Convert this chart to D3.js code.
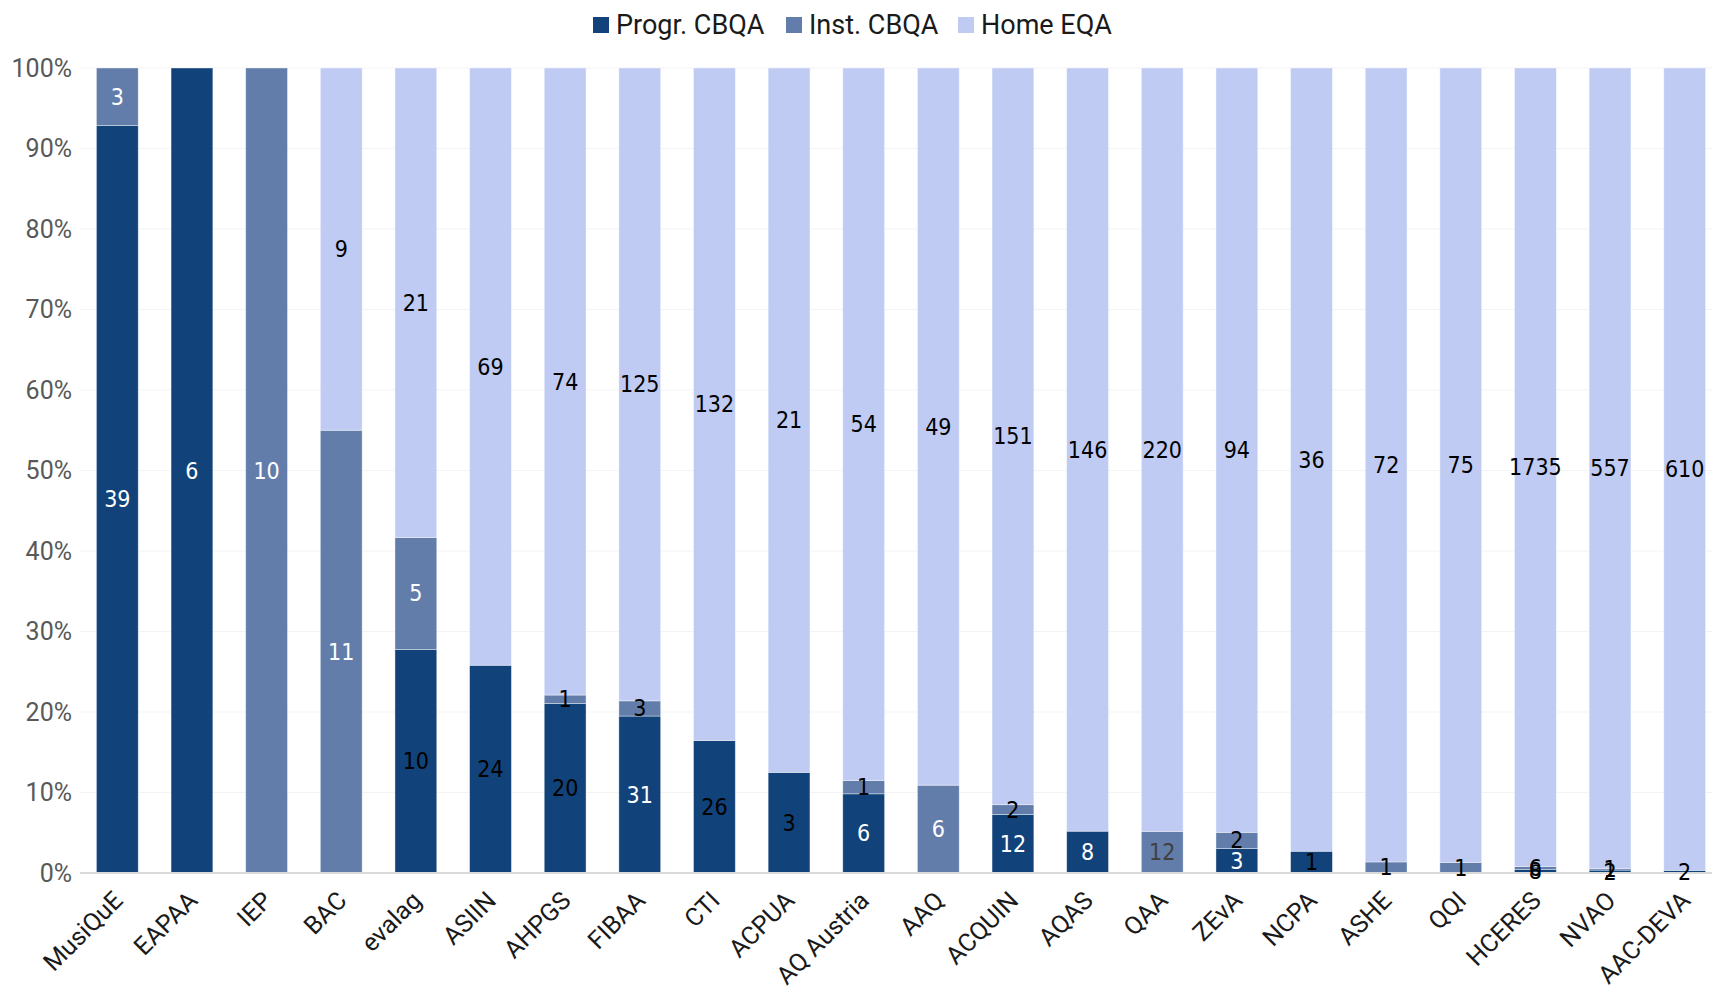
<!DOCTYPE html>
<html>
  <head>
    <meta charset="utf-8">
    <title>CBQA vs home EQA</title>
    <script src="https://cdn.jsdelivr.net/npm/d3@7"></script>
    <style>
      body { margin: 0; background: #fff; }
      #chart { display: block; }
      .tick text { font-family: "Roboto", sans-serif; }
      .num { font-family: "Liberation Sans Narrow", "DejaVu Sans Condensed", sans-serif; }
    </style>
  </head>

  <body>
    <svg id="chart" width="1712" height="986"></svg>

    <script>
      // data
      categories = ["MusiQuE", "EAPAA", "IEP", "BAC", "evalag", "ASIIN", "AHPGS", "FIBAA", "CTI", "ACPUA",
        "AQ Austria", "AAQ", "ACQUIN", "AQAS", "QAA", "ZEvA", "NCPA", "ASHE", "QQI", "HCERES", "NVAO", "AAC-DEVA"];
      seriesNames = ["Progr. CBQA", "Inst. CBQA", "Home EQA"];
      progr = [39, 6, 0, 0, 10, 24, 20, 31, 26, 3, 6, 0, 12, 8, 0, 3, 1, 0, 0, 8, 2, 2];
      inst = [3, 0, 10, 11, 5, 0, 1, 3, 0, 0, 1, 6, 2, 0, 12, 2, 0, 1, 1, 6, 1, 0];
      home = [0, 0, 0, 9, 21, 69, 74, 125, 132, 21, 54, 49, 151, 146, 220, 94, 36, 72, 75, 1735, 557, 610];
      yTicks = [0, 0.1, 0.2, 0.3, 0.4, 0.5, 0.6, 0.7, 0.8, 0.9, 1];

      // styling
      colors = ["#11437a", "#637dab", "#bfcbf3"];
      whiteLabels = ["MusiQuE|0", "MusiQuE|1", "EAPAA|0", "IEP|1", "BAC|1", "evalag|1", "FIBAA|0",
        "AQ Austria|0", "AAQ|1", "ACQUIN|0", "AQAS|0", "ZEvA|0"];
      greyLabels = ["QAA|1"];

      width = 1712;
      height = 986;
      margin = {top: 68, bottom: 113, left: 80, right: -10};

      chart = d3.select("#chart");

      rows = categories.map((c, i) => ({cat: c, 0: progr[i], 1: inst[i], 2: home[i]}));
      stacked = d3.stack().keys([0, 1, 2]).offset(d3.stackOffsetExpand)(rows);

      x = d3.scaleBand()
          .domain(categories)
          .range([margin.left, width - margin.right])
          .paddingInner(0.44)
          .paddingOuter(0.22);

      y = d3.scaleLinear()
          .domain([0, 1])
          .range([height - margin.bottom, margin.top]);

      // gridlines
      chart.append("g")
          .selectAll("line")
          .data(yTicks.slice(1))
          .join("line")
            .attr("x1", margin.left)
            .attr("x2", width)
            .attr("y1", d => y(d))
            .attr("y2", d => y(d))
            .attr("stroke", "#f3f3f3")
            .attr("stroke-width", 1);

      // y axis
      yAxis = d3.axisLeft(y)
          .tickValues(yTicks)
          .tickFormat(d3.format(".0%"))
          .tickSize(0)
          .tickPadding(8);

      chart.append("g")
          .attr("transform", "translate(" + margin.left + ",0)")
          .call(yAxis)
          .call(g => g.select(".domain").remove())
          .selectAll("text")
            .attr("font-size", 25)
            .attr("fill", "#595959");

      // bars
      layers = chart.append("g")
          .selectAll("g")
          .data(stacked)
          .join("g")
            .attr("fill", (d, i) => colors[i]);

      layers.selectAll("rect")
          .data(d => d.map(v => ({v: v, key: d.key})))
          .join("rect")
            .attr("x", d => x(d.v.data.cat))
            .attr("width", x.bandwidth())
            .attr("y", d => y(d.v[1]))
            .attr("height", d => y(d.v[0]) - y(d.v[1]))
            .attr("stroke", "#ffffff")
            .attr("stroke-opacity", 0.5)
            .attr("stroke-width", 0.75);

      // baseline
      chart.append("line")
          .attr("x1", margin.left)
          .attr("x2", width)
          .attr("y1", y(0))
          .attr("y2", y(0))
          .attr("stroke", "#d9d9d9")
          .attr("stroke-width", 2);

      // segment labels
      labels = [];
      stacked.forEach(s => s.forEach(v => {
        if (v.data[s.key] > 0) labels.push({v: v, key: s.key});
      }));

      chart.append("g")
          .selectAll("text")
          .data(labels)
          .join("text")
            .attr("class", "num")
            .attr("x", d => x(d.v.data.cat) + x.bandwidth() / 2)
            .attr("y", d => (y(d.v[0]) + y(d.v[1])) / 2)
            .attr("text-anchor", "middle")
            .attr("dominant-baseline", "central")
            .attr("font-size", 23)
            .attr("fill", d => {
              k = d.v.data.cat + "|" + d.key;
              if (whiteLabels.includes(k)) return "#ffffff";
              if (greyLabels.includes(k)) return "#404040";
              return "#000000";
            })
            .text(d => d.v.data[d.key]);

      // x labels
      chart.append("g")
          .selectAll("text")
          .data(categories)
          .join("text")
            .attr("transform", d => "translate(" + (x(d) + x.bandwidth() / 2 - 6) + "," + (y(0) + 16) + ") rotate(-45)")
            .attr("text-anchor", "end")
            .attr("dominant-baseline", "hanging")
            .attr("font-family", "Roboto, sans-serif")
            .attr("font-size", 25)
            .attr("fill", "#1a1a1a")
            .text(d => d);

      // legend
      legend = chart.append("g")
          .attr("transform", "translate(0,25)");

      legendX = [593, 786, 958];

      item = legend.selectAll("g")
          .data(seriesNames)
          .join("g")
            .attr("transform", (d, i) => "translate(" + legendX[i] + ",0)");

      item.append("rect")
          .attr("y", -8)
          .attr("width", 16)
          .attr("height", 16)
          .attr("fill", (d, i) => colors[i]);

      item.append("text")
          .attr("x", 23)
          .attr("dominant-baseline", "central")
          .attr("font-family", "Roboto, sans-serif")
          .attr("font-size", 27)
          .attr("fill", "#1a1a1a")
          .text(d => d);
    </script>
  </body>
</html>
